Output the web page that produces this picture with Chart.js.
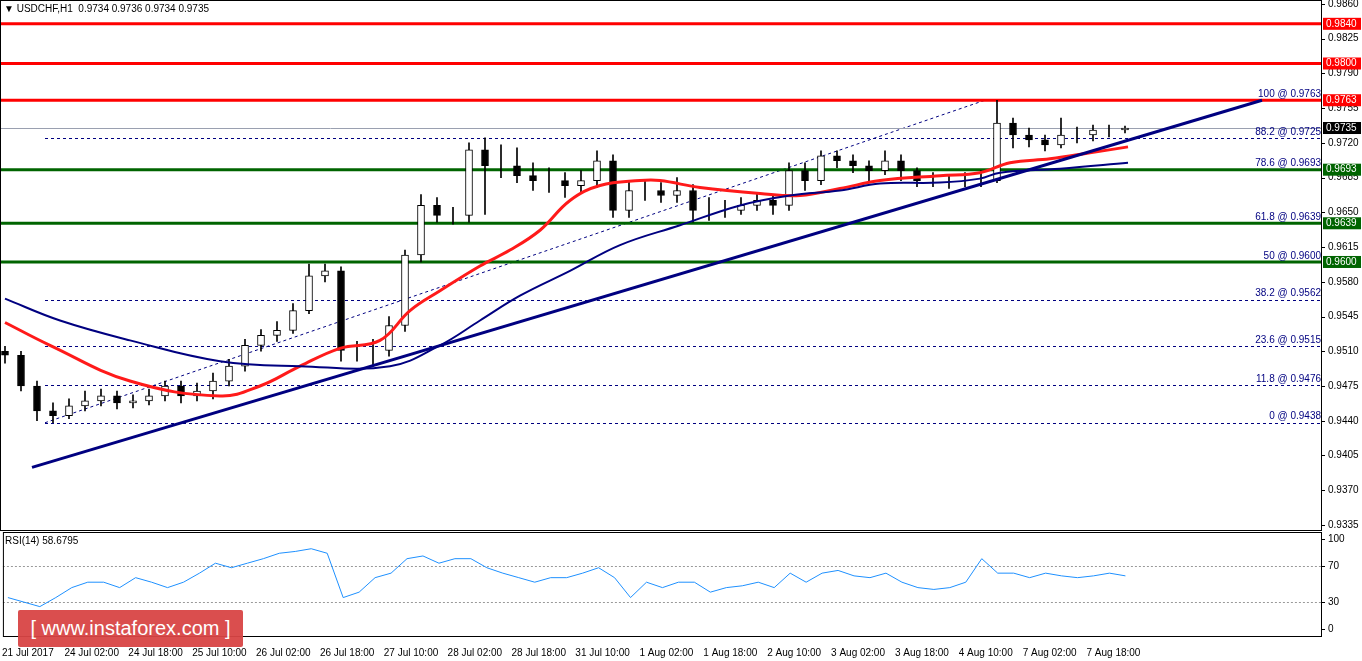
<!DOCTYPE html>
<html><head><meta charset="utf-8">
<script src="https://cdn.jsdelivr.net/npm/chart.js@4.4.0/dist/chart.umd.min.js"></script>
<style>
body{margin:0;background:#fff;width:1362px;height:661px;overflow:hidden;font-family:Arial,"Liberation Sans",sans-serif}
#w1{position:absolute;left:0;top:0;width:1362px;height:531px}
#w2{position:absolute;left:0;top:532px;width:1362px;height:129px}
#wm{position:absolute;left:18px;top:610px;width:225px;height:37px;background:#d84545;color:#fff;font-size:20px;line-height:37px;text-align:center;border-radius:2px;opacity:.95}
</style></head><body>
<div id="w1"><canvas id="c1"></canvas></div>
<div id="w2"><canvas id="c2"></canvas></div>
<div id="wm">[ www.instaforex.com ]</div>
<script>
const closes=[0.9506,0.9475,0.9450,0.9445,0.9455,0.9460,0.9465,0.9458,0.9460,0.9465,0.9475,0.9465,0.9470,0.9480,0.9495,0.9516,0.9526,0.9531,0.9551,0.9586,0.9591,0.9511,0.9511,0.9511,0.9536,0.9607,0.9657,0.9647,0.9647,0.9713,0.9697,0.9697,0.9687,0.9682,0.9682,0.9677,0.9682,0.9702,0.9652,0.9672,0.9672,0.9667,0.9672,0.9652,0.9652,0.9652,0.9657,0.9662,0.9657,0.9692,0.9682,0.9707,0.9702,0.9697,0.9692,0.9702,0.9692,0.9682,0.9682,0.9682,0.9682,0.9682,0.9740,0.9728,0.9723,0.9718,0.9728,0.9728,0.9733,0.9733,0.9735];
const highs=[0.9515,0.9510,0.9480,0.9458,0.9462,0.9470,0.9472,0.9470,0.9466,0.9472,0.9480,0.9480,0.9478,0.9488,0.9502,0.9522,0.9532,0.9540,0.9558,0.9598,0.9598,0.9595,0.9520,0.9522,0.9545,0.9612,0.9668,0.9665,0.9655,0.9720,0.9725,0.9718,0.9715,0.9700,0.9695,0.9690,0.9692,0.9712,0.9708,0.9682,0.9682,0.9680,0.9685,0.9678,0.9665,0.9662,0.9665,0.9670,0.9668,0.9700,0.9700,0.9712,0.9712,0.9708,0.9702,0.9712,0.9708,0.9695,0.9690,0.9688,0.9690,0.9692,0.9763,0.9745,0.9735,0.9728,0.9745,0.9736,0.9738,0.9738,0.9737];
const lows=[0.9498,0.9470,0.9440,0.9438,0.9442,0.9450,0.9455,0.9452,0.9453,0.9456,0.9460,0.9458,0.9460,0.9462,0.9475,0.9490,0.9510,0.9520,0.9528,0.9548,0.9580,0.9500,0.9500,0.9495,0.9505,0.9530,0.9600,0.9640,0.9638,0.9640,0.9648,0.9685,0.9680,0.9672,0.9670,0.9665,0.9670,0.9675,0.9645,0.9645,0.9662,0.9660,0.9660,0.9640,0.9642,0.9645,0.9648,0.9652,0.9648,0.9652,0.9672,0.9678,0.9695,0.9690,0.9682,0.9688,0.9682,0.9676,0.9676,0.9674,0.9676,0.9676,0.9680,0.9715,0.9716,0.9712,0.9715,0.9720,0.9722,0.9726,0.9730];
const firstOpen=0.9510;
const rsi=[35,30,25,35,46,52,52,46,57,52,46,52,62,73,68,73,78,84,86,89,84,35,41,57,62,78,81,73,78,78,68,62,57,52,57,57,62,68,57,35,52,46,52,52,41,46,48,52,46,62,52,62,65,59,57,62,52,46,44,46,52,78,62,62,57,62,59,57,59,62,59];
const redMA=[[0,0.9539],[11.25,0.9516],[31.25,0.9480],[53.75,0.9465],[63.75,0.9475],[73.75,0.9495],[83.75,0.9513],[93.75,0.9521],[101.25,0.9551],[108.75,0.9571],[118.75,0.9596],[126.25,0.9612],[133.75,0.9632],[141.25,0.9662],[148.75,0.9677],[158.75,0.9682],[163.75,0.9682],[173.75,0.9675],[188.75,0.9669],[198.75,0.9667],[208.75,0.9674],[218.75,0.9682],[233.75,0.9687],[243.75,0.9690],[251.25,0.9700],[261.25,0.9704],[271.25,0.9710],[280.75,0.9716]];
const navyMA=[[0,0.9563],[13.75,0.9541],[31.25,0.9521],[53.75,0.9500],[73.75,0.9495],[96.25,0.9495],[108.75,0.9516],[118.75,0.9541],[128.75,0.9566],[141.25,0.9591],[153.75,0.9617],[168.75,0.9637],[183.75,0.9657],[196.25,0.9667],[208.75,0.9672],[218.75,0.9679],[233.75,0.9680],[243.75,0.9684],[248.75,0.9690],[263.75,0.9694],[280.75,0.9700]];
const trendLine=[[6.75,0.9393],[314.25,0.9763]];
const fibDiag=[[10,0.9438],[245,0.9763]];
const redLevels=[0.9840,0.9800,0.9763];
const greenLevels=[0.9693,0.9639,0.9600];
const fibLevels=[[100,0.9763],[88.2,0.9725],[78.6,0.9693],[61.8,0.9639],[50,0.9600],[38.2,0.9562],[23.6,0.9515],[11.8,0.9476],[0,0.9438]];
const dashedFib=[0.9725,0.9562,0.9515,0.9476,0.9438];
const priceTicks=[0.9860,0.9825,0.9790,0.9755,0.9720,0.9685,0.9650,0.9615,0.9580,0.9545,0.9510,0.9475,0.9440,0.9405,0.9370,0.9335];
const rsiTicks=[0,30,70,100];
const lastPrice=0.9735;
const xLabels=["21 Jul 2017","24 Jul 02:00","24 Jul 18:00","25 Jul 10:00","26 Jul 02:00","26 Jul 18:00","27 Jul 10:00","28 Jul 02:00","28 Jul 18:00","31 Jul 10:00","1 Aug 02:00","1 Aug 18:00","2 Aug 10:00","3 Aug 02:00","3 Aug 18:00","4 Aug 10:00","7 Aug 02:00","7 Aug 18:00"];
const hoursPerCandle=4;

const opens=closes.map((c,i)=>i?closes[i-1]:firstOpen);
const candles=closes.map((c,i)=>({x:i*hoursPerCandle,y:[opens[i],c]}));
const wicks=closes.map((c,i)=>({x:i*hoursPerCandle,y:[lows[i],highs[i]]}));
const XMIN=-1.25,XMAX=329.25;
const font={family:'Arial',size:10};
function fixW(s){s.width=40;}
function yLabels(ch,vals,fmt){const {ctx,chartArea:a,scales:{y}}=ch;ctx.save();ctx.font='10px Arial';ctx.fillStyle='#000';ctx.textBaseline='middle';ctx.textAlign='left';
 vals.forEach(v=>{const py=y.getPixelForValue(v);ctx.fillText(fmt(v),a.right+6,py);ctx.fillRect(a.right,Math.round(py),3,1);});ctx.restore();}

const overlay={id:'ov',
 beforeDatasetsDraw(ch){const {ctx,chartArea:a,scales:{x,y}}=ch;ctx.save();
  ctx.strokeStyle='#000080';ctx.lineWidth=1;ctx.setLineDash([3,3]);
  dashedFib.forEach(v=>{const py=Math.round(y.getPixelForValue(v))+.5;ctx.beginPath();ctx.moveTo(x.getPixelForValue(fibDiag[0][0]),py);ctx.lineTo(a.right,py);ctx.stroke();});
  ctx.beginPath();ctx.moveTo(x.getPixelForValue(fibDiag[0][0]),y.getPixelForValue(fibDiag[0][1]));ctx.lineTo(x.getPixelForValue(fibDiag[1][0]),y.getPixelForValue(fibDiag[1][1]));ctx.stroke();
  ctx.setLineDash([]);
  ctx.strokeStyle='#9aa0b0';const lp=Math.round(y.getPixelForValue(lastPrice))+.5;ctx.beginPath();ctx.moveTo(a.left,lp);ctx.lineTo(a.right,lp);ctx.stroke();
  ctx.lineWidth=3;
  ctx.strokeStyle='#ff0000';redLevels.forEach(v=>{const py=y.getPixelForValue(v);ctx.beginPath();ctx.moveTo(a.left,py);ctx.lineTo(a.right,py);ctx.stroke();});
  ctx.strokeStyle='#006400';greenLevels.forEach(v=>{const py=y.getPixelForValue(v);ctx.beginPath();ctx.moveTo(a.left,py);ctx.lineTo(a.right,py);ctx.stroke();});
  ctx.fillStyle='#000080';ctx.font='10px Arial';ctx.textAlign='right';ctx.textBaseline='bottom';
  fibLevels.forEach(([p,v])=>ctx.fillText(p+' @ '+v.toFixed(4),a.right-1,y.getPixelForValue(v)-1));
  ctx.restore();},
 afterDraw(ch){const {ctx,chartArea:a,scales:{y}}=ch;
  yLabels(ch,priceTicks,v=>v.toFixed(4));
  ctx.save();ctx.font='10px Arial';ctx.textBaseline='middle';
  const box=(v,bg,fg)=>{const py=y.getPixelForValue(v);ctx.fillStyle=bg;ctx.fillRect(a.right+1,py-6,38,12);ctx.fillStyle=fg;ctx.textAlign='left';ctx.fillText(v.toFixed(4),a.right+4,py);};
  redLevels.forEach(v=>box(v,'#ff0000','#fff'));greenLevels.forEach(v=>box(v,'#006400','#fff'));box(lastPrice,'#000','#fff');
  ctx.fillStyle='#000';ctx.textAlign='left';ctx.fillText('\u25BC USDCHF,H1  0.9734 0.9736 0.9734 0.9735',4,9);
  ctx.strokeStyle='#000';ctx.lineWidth=1;ctx.strokeRect(a.left+.5,a.top+.5,a.right-a.left-1,a.bottom-a.top-1);
  ctx.restore();}};

new Chart(document.getElementById('c1'),{
 data:{datasets:[
  {type:'bar',data:wicks,backgroundColor:'#000',borderWidth:0,barThickness:1,grouped:false,order:4},
  {type:'bar',data:candles,backgroundColor:candles.map(d=>d.y[1]>=d.y[0]?'#fff':'#000'),borderColor:'#000',borderWidth:1,borderSkipped:false,barThickness:7,grouped:false,order:3},
  {type:'line',data:redMA.map(p=>({x:p[0],y:p[1]})),borderColor:'#ff1a1a',borderWidth:3,pointRadius:0,tension:.4,order:2},
  {type:'line',data:navyMA.map(p=>({x:p[0],y:p[1]})),borderColor:'#000080',borderWidth:2,pointRadius:0,tension:.4,order:1},
  {type:'line',data:trendLine.map(p=>({x:p[0],y:p[1]})),borderColor:'#000080',borderWidth:3,pointRadius:0,order:0}
 ]},
 options:{responsive:true,maintainAspectRatio:false,animation:false,layout:{padding:0},
  plugins:{legend:{display:false},tooltip:{enabled:false}},
  scales:{x:{type:'linear',min:XMIN,max:XMAX,display:false,offset:false},
   y:{position:'right',min:0.93289,max:0.98640,afterFit:fixW,grid:{display:false},border:{display:false},ticks:{display:false}}}},
 plugins:[overlay]});

const rsiOv={id:'r',beforeDatasetsDraw(ch){const {ctx,chartArea:a,scales:{y}}=ch;ctx.save();ctx.strokeStyle='#999';ctx.setLineDash([2,2]);
 [70,30].forEach(v=>{const py=Math.round(y.getPixelForValue(v))+.5;ctx.beginPath();ctx.moveTo(a.left,py);ctx.lineTo(a.right,py);ctx.stroke();});ctx.restore();},
 afterDraw(ch){const {ctx,chartArea:a}=ch;yLabels(ch,rsiTicks,v=>String(v));ctx.save();ctx.strokeStyle='#000';ctx.strokeRect(a.left+.5,a.top+.5,a.right-a.left-1,a.bottom-a.top-1);
 ctx.font='10px Arial';ctx.fillStyle='#000';ctx.textBaseline='middle';ctx.fillText('RSI(14) 58.6795',5,a.top+9);ctx.restore();}};
new Chart(document.getElementById('c2'),{type:'line',
 data:{datasets:[{data:rsi.map((v,i)=>({x:i*hoursPerCandle,y:v})),borderColor:'#1e90ff',borderWidth:1,pointRadius:0}]},
 options:{responsive:true,maintainAspectRatio:false,animation:false,layout:{padding:0},
  plugins:{legend:{display:false},tooltip:{enabled:false}},
  scales:{x:{type:'linear',min:XMIN,max:XMAX,grid:{display:false},border:{display:false},
    afterBuildTicks(s){s.ticks=xLabels.map((l,k)=>({value:5+16*k}));},
    ticks:{font,color:'#000',padding:2,maxRotation:0,autoSkip:false,callback:(v)=>xLabels[Math.round((v-5)/16)]}},
   y:{position:'right',min:-8.6,max:107.5,afterFit:fixW,grid:{display:false},border:{display:false},ticks:{display:false}}}},
 plugins:[rsiOv]});
</script></body></html>
